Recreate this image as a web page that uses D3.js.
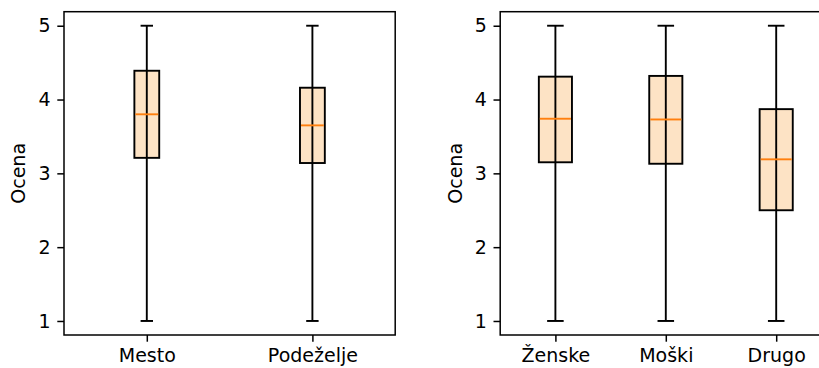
<!DOCTYPE html>
<html><head><meta charset="utf-8">
<script src="https://cdn.jsdelivr.net/npm/d3@7"></script>
<style>body{margin:0;background:#fff}svg{display:block}text{font-family:"DejaVu Sans",sans-serif}</style>
</head><body><svg id="c" width="819" height="368"></svg>
<script>
const yTicks = [1, 2, 3, 4, 5];
const yLabel = "Ocena";
const catsA = ["Mesto", "Podeželje"];
const minA = [1, 1];
const q1A = [3.21, 3.14];
const medA = [3.80, 3.65];
const q3A = [4.39, 4.16];
const maxA = [5, 5];
const catsB = ["Ženske", "Moški", "Drugo"];
const minB = [1, 1, 1];
const q1B = [3.15, 3.13, 2.50];
const medB = [3.74, 3.73, 3.19];
const q3B = [4.31, 4.32, 3.87];
const maxB = [5, 5, 5];

const svg = d3.select("#c");
const plotTop = 11.7, plotBottom = 335;
const FS = 19, TK = 6.7, LW = 1.9;
const y = d3.scaleLinear().domain([0.81, 5.19]).range([plotBottom, plotTop]);

function panel(x0, step, cats, mins, q1s, meds, q3s, maxs, labelX) {
  const n = cats.length;
  const x = d3.scaleLinear().domain([0.5, n + 0.5]).range([x0, x0 + step * n]);
  const bw = (n === 2 ? 0.15 : 0.3);
  const g = svg.append("g");
  const data = cats.map((c, i) => ({c, pos: i + 1, min: mins[i], q1: q1s[i], med: meds[i], q3: q3s[i], max: maxs[i]}));
  g.selectAll("rect.box").data(data).join("rect")
    .attr("x", d => x(d.pos - bw / 2)).attr("width", d => x(d.pos + bw / 2) - x(d.pos - bw / 2))
    .attr("y", d => y(d.q3)).attr("height", d => y(d.q1) - y(d.q3))
    .attr("fill", "#fde3c5").attr("stroke", "#000").attr("stroke-width", LW);
  g.selectAll("line.wh").data(data).join("line")
    .attr("x1", d => x(d.pos)).attr("x2", d => x(d.pos))
    .attr("y1", d => y(d.min)).attr("y2", d => y(d.max))
    .attr("stroke", "#000").attr("stroke-width", LW);
  ["min", "max"].forEach(k => {
    g.selectAll("line.cap" + k).data(data).join("line")
      .attr("x1", d => x(d.pos - bw / 4)).attr("x2", d => x(d.pos + bw / 4))
      .attr("y1", d => y(d[k])).attr("y2", d => y(d[k]))
      .attr("stroke", "#000").attr("stroke-width", LW);
  });
  g.selectAll("line.med").data(data).join("line")
    .attr("x1", d => x(d.pos - bw / 2) + 1).attr("x2", d => x(d.pos + bw / 2) - 1)
    .attr("y1", d => y(d.med)).attr("y2", d => y(d.med))
    .attr("stroke", "#ff7f0e").attr("stroke-width", LW);
  g.append("rect").attr("x", x.range()[0]).attr("y", plotTop)
    .attr("width", x.range()[1] - x.range()[0]).attr("height", plotBottom - plotTop)
    .attr("fill", "none").attr("stroke", "#000").attr("stroke-width", 1.5);
  const ya = g.append("g").attr("transform", `translate(${x.range()[0]},0)`)
    .call(d3.axisLeft(y).tickValues(yTicks).tickFormat(d3.format("d")).tickSize(TK).tickPadding(6.7));
  ya.select(".domain").remove();
  ya.selectAll("line").attr("stroke", "#000").attr("stroke-width", 1.5);
  ya.selectAll("text").attr("font-size", FS).attr("fill", "#000");
  const xa = g.append("g").attr("transform", `translate(0,${plotBottom})`)
    .call(d3.axisBottom(x).tickValues(data.map(d => d.pos)).tickFormat((d, i) => cats[i]).tickSize(TK).tickPadding(6.7));
  xa.select(".domain").remove();
  xa.selectAll("line").attr("stroke", "#000").attr("stroke-width", 1.5);
  xa.selectAll("text").attr("font-size", FS).attr("fill", "#000");
  g.append("text").attr("transform", `translate(${labelX},${(plotTop + plotBottom) / 2}) rotate(-90)`)
    .attr("text-anchor", "middle").attr("dy", "0.35em").attr("font-size", FS).attr("fill", "#000").text(yLabel);
}
panel(64, 165.6, catsA, minA, q1A, medA, q3A, maxA, 18.3);
panel(500.2, 110.4, catsB, minB, q1B, medB, q3B, maxB, 455);
</script></body></html>
